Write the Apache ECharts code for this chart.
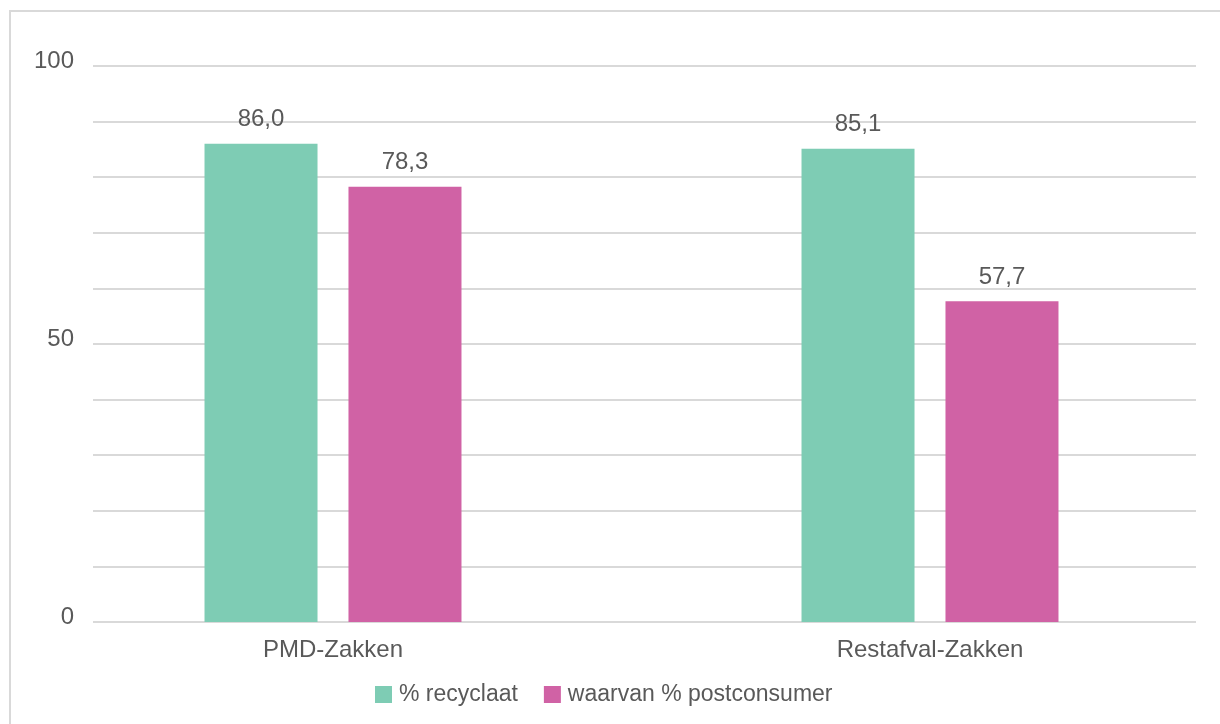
<!DOCTYPE html>
<html>
<head>
<meta charset="utf-8">
<script src="https://cdn.jsdelivr.net/npm/echarts@6/dist/echarts.min.js"></script>
<style>
  html, body { margin: 0; padding: 0; background: #fff; }
  #chart { width: 1220px; height: 724px; }
</style>
</head>
<body>
<div id="chart"></div>
<script>
// data
const categories = ["PMD-Zakken", "Restafval-Zakken"];
const recyclaat = [86.0, 85.1];
const postconsumer = [78.3, 57.7];
const seriesNames = ["% recyclaat", "waarvan % postconsumer"];

const textColor = "#595959";
const font = "Liberation Sans, Arial, sans-serif";
const fmt = p => p.value.toFixed(1).replace(".", ",");

const chart = echarts.init(document.getElementById("chart"));
chart.setOption({
  animation: false,
  textStyle: { fontFamily: font },
  graphic: [
    {
      type: "rect",
      shape: { x: 10, y: 11, width: 1400, height: 900 },
      style: { fill: "none", stroke: "#d9d9d9", lineWidth: 2 },
      silent: true
    }
  ],
  legend: {
    left: 370,
    top: 678,
    itemWidth: 17,
    itemHeight: 17,
    itemGap: 26,
    icon: "rect",
    data: seriesNames,
    textStyle: { color: textColor, fontSize: 23, fontFamily: font, padding: [0, 0, 0, 2] }
  },
  grid: [
    // gridlines and y labels
    { left: 93, right: 24, top: 66, bottom: 102 },
    // bars and category labels (categories sit on the grid edges)
    { left: 333, width: 597, top: 66, bottom: 102 }
  ],
  xAxis: [
    { type: "category", gridIndex: 0, data: categories, show: false },
    {
      type: "category",
      gridIndex: 1,
      data: categories,
      boundaryGap: false,
      axisLine: { show: false },
      axisTick: { show: false },
      splitLine: { show: false },
      axisLabel: { color: textColor, fontSize: 24, margin: 16, fontFamily: font }
    }
  ],
  yAxis: [
    {
      type: "value",
      gridIndex: 0,
      min: 0,
      max: 100,
      interval: 10,
      axisLine: { show: false },
      axisTick: { show: false },
      splitLine: { lineStyle: { color: "#d9d9d9", width: 2 } },
      axisLabel: {
        color: textColor,
        fontSize: 24,
        margin: 19,
        fontFamily: font,
        verticalAlign: "bottom",
        lineHeight: 10,
        formatter: v => (v % 50 === 0 ? String(v) : "")
      }
    },
    { type: "value", gridIndex: 1, min: 0, max: 100, show: false }
  ],
  series: [
    {
      name: seriesNames[0],
      type: "bar",
      xAxisIndex: 1,
      yAxisIndex: 1,
      data: recyclaat,
      barWidth: 113,
      barGap: "27.4%",
      itemStyle: { color: "#7ECCB4" },
      label: { show: true, position: "top", distance: 12, color: textColor, fontSize: 24, fontFamily: font, formatter: fmt }
    },
    {
      name: seriesNames[1],
      type: "bar",
      xAxisIndex: 1,
      yAxisIndex: 1,
      data: postconsumer,
      barWidth: 113,
      barGap: "27.4%",
      itemStyle: { color: "#D062A5" },
      label: { show: true, position: "top", distance: 12, color: textColor, fontSize: 24, fontFamily: font, formatter: fmt }
    }
  ]
});
</script>
</body>
</html>
